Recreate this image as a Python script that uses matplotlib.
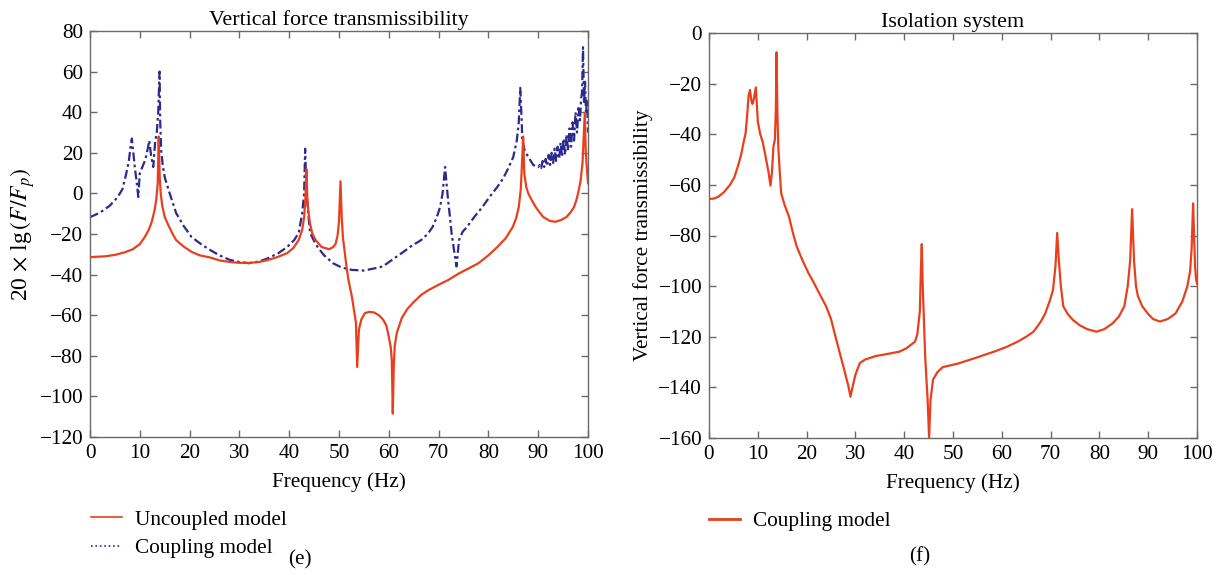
import matplotlib
matplotlib.use("Agg")
import matplotlib.pyplot as plt
from matplotlib.lines import Line2D

# ---------------- data ----------------
# (e) uncoupled model
unc_f = [0, 3, 5, 7, 8.6, 10, 11, 11.8, 12.4, 12.9, 13.3, 13.6, 13.8, 14.0, 14.2, 14.5,
         15.0, 15.8, 16.6, 17.3, 18.7, 20.4, 22, 24, 26, 28.1, 30, 32, 34, 35.7, 37.5,
         39.6, 40.8, 41.9, 42.6, 43.0, 43.25, 43.45, 43.65, 43.9, 44.2, 44.6, 45.3, 46.5,
         48.0, 48.8, 49.3, 49.7, 50.0, 50.3, 50.55, 50.8, 51.5, 51.9, 52.6, 53.4, 53.65,
         54.0, 54.5, 55.2, 56, 57, 58, 58.8, 59.5, 60.0, 60.4, 60.6, 60.8, 61.0, 61.2, 61.6,
         62.6, 63.7, 65, 66.5, 68, 70, 71.9, 74.1, 76, 78, 80, 81.8, 83.5, 84.9, 85.6, 86.1,
         86.5, 87.0, 87.2, 87.6, 88.0, 88.7, 89.7, 91.0, 92.3, 93.4, 94.5, 95.7, 96.6, 97.2,
         97.7, 98.0, 98.5, 98.9, 99.35, 99.55, 99.7, 100.0]
unc_v = [-31.4, -31, -30.3, -29, -27.5, -25, -21.5, -18, -14, -9, -3.3, 5, 28, 8, 0, -6,
         -11.6, -16, -20, -23, -26, -28.8, -30.5, -31.5, -33, -33.8, -34.2, -34.2, -33.8, -32.8, -31.5,
         -29.4, -27, -23, -18, -11.6, -3, 12, -3, -10, -15, -19.5, -23, -26.4,
         -27.5, -26.5, -25, -21, -14, 6, -12, -22, -36, -42.7, -51, -63.8, -85.5,
         -67, -62, -59, -58.4, -58.6, -60, -62, -65, -70.7, -76, -82, -108.5, -85, -75, -68.8,
         -61.4, -57, -53.5, -50, -47.6, -45, -42.7, -39.4, -37, -34.4, -30.5, -26.4, -22, -16.5, -12, -6.7,
         2, 28, 10, 3.2, 0, -3.3, -7.5, -11.6, -13.5, -14, -13.2, -11.6, -9, -6.7,
         -3, 0, 6, 15, 39.5, 20, 15, 5]

# (e) coupling model
cpl_f = [0, 2, 4, 5.5, 6.5, 7.3, 7.8, 8.2, 8.4, 8.7, 9.0, 9.4, 9.7, 10.0, 10.5, 11.1, 11.6,
         11.9, 12.3, 12.7, 13.1, 13.4, 13.7, 13.96, 14.1, 14.3, 14.6, 15.0, 16.0, 17.3, 18.8,
         20.4, 22.3, 24.2, 26, 28.1, 30, 31.9, 34, 35.7, 37.8, 39.6, 41, 41.9, 42.6, 43.0,
         43.2, 43.4, 43.6, 43.9, 44.2, 45, 45.7, 47, 48.8, 50.5, 52.6, 55, 57, 58.8, 60.5,
         62.6, 64.5, 66.5, 67.8, 68.8, 69.6, 70.3, 70.8, 71.3, 71.6, 71.9, 72.3, 72.6, 73.1,
         73.6, 74.1, 74.8, 75.7, 77.2, 78.8, 80.3, 81.8, 83, 84.1, 85, 85.7, 86.1, 86.4, 86.7,
         86.8, 87.3, 88.0, 89.0, 90.0, 90.3, 90.6, 90.9, 91.2, 91.5, 91.8, 92.1, 92.4, 92.7,
         93.0, 93.3, 93.6, 93.9, 94.2, 94.5, 94.8, 95.1, 95.4, 95.7, 96.0, 96.3, 96.6, 96.9,
         97.2, 97.5, 97.8, 98.1, 98.4, 98.6, 98.8, 99.0, 99.2, 99.4, 99.6, 99.8, 100.0]
cpl_v = [-11.7, -9.5, -6, -2, 2, 10, 16, 24, 27, 20, 12.9, 5, -1.8, 10, 13, 16.5, 22,
         26, 18, 13, 26, 29.6, 40, 60, 35, 21, 14, 8, 0, -9.7, -16,
         -21.5, -25, -28, -30.5, -32.8, -33.8, -34.4, -33.5, -32, -29.5, -26.4, -23, -19.5, -10, 0,
         22, 5, -3.3, -12, -19.5, -23.5, -26.4, -30.5, -34.4, -36.5, -37.7, -38, -37, -36, -33,
         -29.4, -26, -23, -20, -16.5, -12, -6.7, 0, 13, 5, -3.3, -12, -19.5, -28,
         -36, -23, -19, -16.5, -11.5, -6.7, -1.5, 3.2, 7.5, 13, 18, 26, 35, 52, 35,
         26, 21, 18, 14, 13, 14, 12.5, 16, 13, 17, 13.5, 19, 14, 20,
         15, 22, 16, 23, 17, 25, 18, 27, 19, 29, 21, 32, 23, 35,
         26, 40, 30, 42, 36, 46, 50, 72, 44, 55, 40, 46, 30]

# (f) isolation system, coupling model
iso_f = [0, 1, 1.9, 3, 4.3, 5.2, 5.9, 6.6, 7.0, 7.5, 7.8, 8.1, 8.4, 8.7, 8.9, 9.2, 9.6, 9.8,
         10.0, 10.5, 11.0, 11.6, 12.2, 12.6, 12.9, 13.2, 13.5, 13.7, 13.85, 14.0, 14.2, 14.5,
         14.8, 15.5, 16.4, 17.2, 18.0, 19.2, 20.4, 21.3, 22.5, 24, 25, 26.1, 27.7, 28.5, 29.0,
         29.4, 30, 30.9, 32, 34.2, 36, 39, 40.5, 41.5, 42.2, 42.7, 43.2, 43.4, 43.6, 43.8,
         44.3, 44.8, 45.1, 45.4, 45.9, 46.8, 47.9, 51, 54.4, 58.4, 61, 63.2, 65, 66.5, 68,
         68.9, 69.8, 70.5, 71.0, 71.35, 71.7, 72.1, 72.6, 73.5, 74.6, 76, 77.5, 79.4, 81,
         82.7, 84, 85.1, 85.8, 86.3, 86.7, 87.1, 87.5, 87.9, 88.8, 89.9, 91, 92.4, 94, 95.6,
         97, 98, 98.6, 98.9, 99.2, 99.4, 99.6, 99.8, 100]
iso_v = [-65.6, -65.4, -64.7, -63, -60, -57, -52.8, -48, -44, -39.6, -33, -25, -22.5, -27, -28,
         -26, -21.5, -28, -35, -40, -43, -48.9, -55, -60.3, -55, -45, -42, -30, -7.6, -30, -45, -55,
         -63.4, -68, -72.6, -79, -84.5, -90, -94.9, -98, -102.5, -108, -113, -121.3, -133, -139, -143.7,
         -140, -135, -130.4, -129, -127.6, -127, -125.9, -124.5, -123, -122, -119, -110, -95, -83.4, -100,
         -127.9, -145, -160, -145, -137, -134, -132, -130.6, -128.5, -125.9, -124, -122, -120, -118, -114,
         -110.8, -106, -101.5, -92, -79, -90, -100, -108, -111, -113.4, -115.5, -117, -118, -117,
         -114.7, -112, -108, -100, -90, -69.6, -90, -100, -104, -108, -110.8, -113, -114, -113, -110.8,
         -106, -100.2, -94, -85, -67.3, -80, -92.3, -97, -99]

left_yticks = list(range(-120, 81, 20))
right_yticks = list(range(-160, 1, 20))
xticks = list(range(0, 101, 10))

# ---------------- style ----------------
plt.rcParams['font.family'] = ['Liberation Serif', 'DejaVu Serif']
plt.rcParams['mathtext.fontset'] = 'stix'
plt.rcParams['axes.unicode_minus'] = True

RED = '#e8401e'
BLUE = '#2d2a8e'
SPINE = '#6a6a6a'
FS = 15.3

fig = plt.figure(figsize=(12.18, 5.75), dpi=100)
axL = fig.add_axes([90/1218, 1-437/575, 498/1218, 406/575])
axR = fig.add_axes([709/1218, 1-438/575, 488/1218, 405/575])

def style(ax):
    for s in ax.spines.values():
        s.set_color(SPINE)
        s.set_linewidth(1.0)
    ax.tick_params(direction='in', length=5, width=1.0, color=SPINE,
                   top=True, right=True, labelsize=FS, pad=5)
    ax.set_xticks(xticks)
    ax.set_xlim(0, 100)

# left
axL.plot(unc_f, unc_v, color=RED, lw=1.6, zorder=3)
axL.plot(cpl_f, cpl_v, color=BLUE, lw=1.6, dashes=(4, 1.5, 1.2, 1.5), zorder=2)
style(axL)
axL.set_ylim(-120, 80)
axL.set_yticks(left_yticks)
axL.set_title('Vertical force transmissibility', fontsize=15.8, pad=4)
axL.set_xlabel('Frequency (Hz)', fontsize=FS, labelpad=7)
axL.set_ylabel(r'20 $\times$ lg$\,(F/F_p)$', fontsize=17, labelpad=2)

hU = Line2D([], [], color=RED, lw=1.2)
hC = Line2D([], [], color=BLUE, lw=1.2, ls=':')
fig.legend([hU, hC], ['Uncoupled model', 'Coupling model'], loc='center left',
           bbox_to_anchor=(91/1218, 1-534/575), frameon=False, fontsize=FS,
           borderpad=0, borderaxespad=0, handlelength=1.45, handletextpad=0.6,
           labelspacing=0.42)

# right
axR.plot(iso_f, iso_v, color=RED, lw=1.6, zorder=3)
style(axR)
axR.set_ylim(-160, 0)
axR.set_yticks(right_yticks)
axR.set_title('Isolation system', fontsize=15.8, pad=4)
axR.set_xlabel('Frequency (Hz)', fontsize=FS, labelpad=7)
axR.set_ylabel('Vertical force transmissibility', fontsize=FS, labelpad=4)
hR = Line2D([], [], color=RED, lw=2.0)
fig.legend([hR], ['Coupling model'], loc='center left',
           bbox_to_anchor=(709/1218, 1-521/575), frameon=False, fontsize=FS,
           borderpad=0, borderaxespad=0, handlelength=1.45, handletextpad=0.6)

fig.text(300/1218, 1-560/575, '(e)', ha='center', va='center', fontsize=FS)
fig.text(920/1218, 1-557/575, '(f)', ha='center', va='center', fontsize=FS)

fig.savefig('out.png', dpi=100)
